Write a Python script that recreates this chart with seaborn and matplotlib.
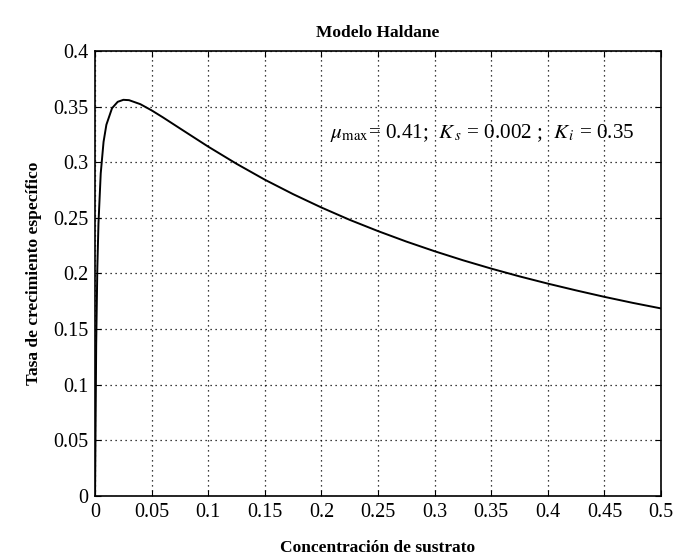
import matplotlib
matplotlib.use("Agg")
import matplotlib.pyplot as plt
import seaborn as sns

# datos (modelo Haldane)
sustrato = [0, 0.001, 0.002, 0.003, 0.005, 0.0075, 0.01, 0.015, 0.02, 0.025,
            0.03, 0.04, 0.05, 0.06, 0.075, 0.1, 0.125, 0.15, 0.175, 0.2,
            0.225, 0.25, 0.275, 0.3, 0.325, 0.35, 0.375, 0.4, 0.425, 0.45,
            0.475, 0.5]
tasa = [0, 0.1365, 0.2044, 0.2447, 0.2899, 0.3183, 0.3337, 0.3486, 0.3543, 0.3561,
        0.3558, 0.3522, 0.3466, 0.3403, 0.3304, 0.3140, 0.2986, 0.2843, 0.2713, 0.2593,
        0.2482, 0.2381, 0.2287, 0.2200, 0.2119, 0.2044, 0.1974, 0.1909, 0.1848, 0.1790,
        0.1736, 0.1686]
xticks = [0, 0.05, 0.1, 0.15, 0.2, 0.25, 0.3, 0.35, 0.4, 0.45, 0.5]
yticks = [0, 0.05, 0.1, 0.15, 0.2, 0.25, 0.3, 0.35, 0.4]

sns.set_theme(style="white")
plt.rcParams['font.family'] = ['Liberation Serif', 'DejaVu Serif']
plt.rcParams['mathtext.fontset'] = 'stix'
plt.rcParams['text.color'] = 'black'
plt.rcParams['axes.labelcolor'] = 'black'

fig = plt.figure(figsize=(6.79, 5.59), dpi=100)
ax = fig.add_axes([0.140, 0.1127, 0.8335, 0.7961])

sns.lineplot(x=sustrato, y=tasa, ax=ax, color='black', linewidth=1.4, sort=False)

ax.set_xlim(0, 0.5)
ax.set_ylim(0, 0.4)
ax.set_xticks(xticks)
ax.set_xticklabels([f"{t:g}" for t in xticks])
ax.set_yticks(yticks)
ax.set_yticklabels([f"{t:g}" for t in yticks])
ax.tick_params(direction='in', length=4, width=0.8, colors='black',
               labelsize=14.5, top=True, right=True, bottom=True, left=True, pad=5)
ax.grid(True, color='black', linestyle=(0, (1, 3)), linewidth=0.9)
for s in ax.spines.values():
    s.set_visible(True)
    s.set_color('black')
    s.set_linewidth(1.2)

ax.set_title('Modelo Haldane', fontsize=12.5, fontweight='bold', pad=10, color='black')
ax.set_xlabel('Concentración de sustrato', fontsize=12.5, fontweight='bold', labelpad=13)
ax.set_ylabel('Tasa de crecimiento específico', fontsize=12.5, fontweight='bold', labelpad=8)

ax.text(0.208, 0.326,
        r'$\mu_{\rm max}$= 0.41;  $K_{\,s}$ = 0.002 ;  $K_{\,i}$ = 0.35',
        fontsize=15.2, va='center', ha='left', color='black')

fig.savefig('out.png', dpi=100)
